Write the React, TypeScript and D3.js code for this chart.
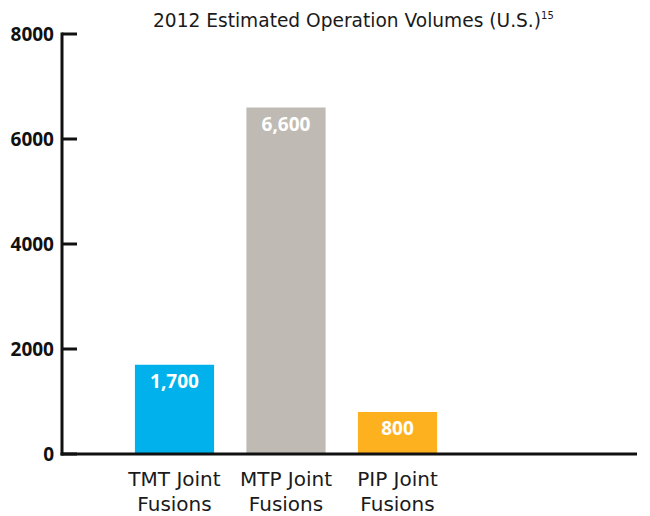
import React from "react";
import * as d3 from "d3";

const categories = ["TMT Joint|Fusions", "MTP Joint|Fusions", "PIP Joint|Fusions"];
const values = [1700, 6600, 800];
const valueLabels = ["1,700", "6,600", "800"];
const colors = ["#00b1eb", "#bfbbb4", "#fdb11e"];
const yTicks = [0, 2000, 4000, 6000, 8000];
const title = "2012 Estimated Operation Volumes (U.S.)";
const titleNote = "15";

const W = 650;
const H = 516;
const FONT = "'DejaVu Sans', sans-serif";
const BOLD_FONT = "'Open Sans', 'DejaVu Sans', sans-serif";

export default function App() {
  const y = d3.scaleLinear().domain([0, 8000]).range([454, 34]);
  const x = d3
    .scaleBand<string>()
    .domain(categories)
    .range([118.75, 453.25])
    .paddingInner(0.29)
    .paddingOuter(0.145);
  const axisX0 = 62;
  const axisX1 = 637;
  const baseY = y(0);

  return (
    <svg
      width={W}
      height={H}
      style={{ position: "absolute", left: 0, top: 0, background: "#fff" }}
      fontFamily={FONT}
    >
      <text x={153} y={27} fontSize={18.6} fill="#1a1a1a">
        {title}
        <tspan fontSize={10} dy={-8}>
          {titleNote}
        </tspan>
      </text>

      {categories.map((c, i) => {
        const bx = x(c)!;
        const by = y(values[i]);
        return (
          <g key={c}>
            <rect x={bx} y={by} width={x.bandwidth()} height={baseY - by} fill={colors[i]} />
            <text
              x={bx + x.bandwidth() / 2}
              y={by + 23}
              textAnchor="middle"
              fontFamily={BOLD_FONT}
              fontSize={19}
              fontWeight="bold"
              fill="#fff"
            >
              {valueLabels[i]}
            </text>
            {c.split("|").map((line, j) => (
              <text
                key={j}
                x={bx + x.bandwidth() / 2}
                y={486 + j * 25}
                textAnchor="middle"
                fontSize={20}
                fill="#1a1a1a"
              >
                {line}
              </text>
            ))}
          </g>
        );
      })}

      <line x1={axisX0} x2={axisX0} y1={y(8000) - 1.5} y2={baseY + 1.5} stroke="#111" strokeWidth={3} />
      <line x1={axisX0 - 1.5} x2={axisX1} y1={baseY} y2={baseY} stroke="#111" strokeWidth={3} />
      {yTicks.map((t) => (
        <g key={t}>
          <line x1={axisX0} x2={axisX0 + 15} y1={y(t)} y2={y(t)} stroke="#111" strokeWidth={3} />
          <text
            x={54}
            y={y(t)}
            dy="0.36em"
            textAnchor="end"
            fontFamily={BOLD_FONT}
            fontSize={19}
            fontWeight="bold"
            fill="#111"
          >
            {t}
          </text>
        </g>
      ))}
    </svg>
  );
}
